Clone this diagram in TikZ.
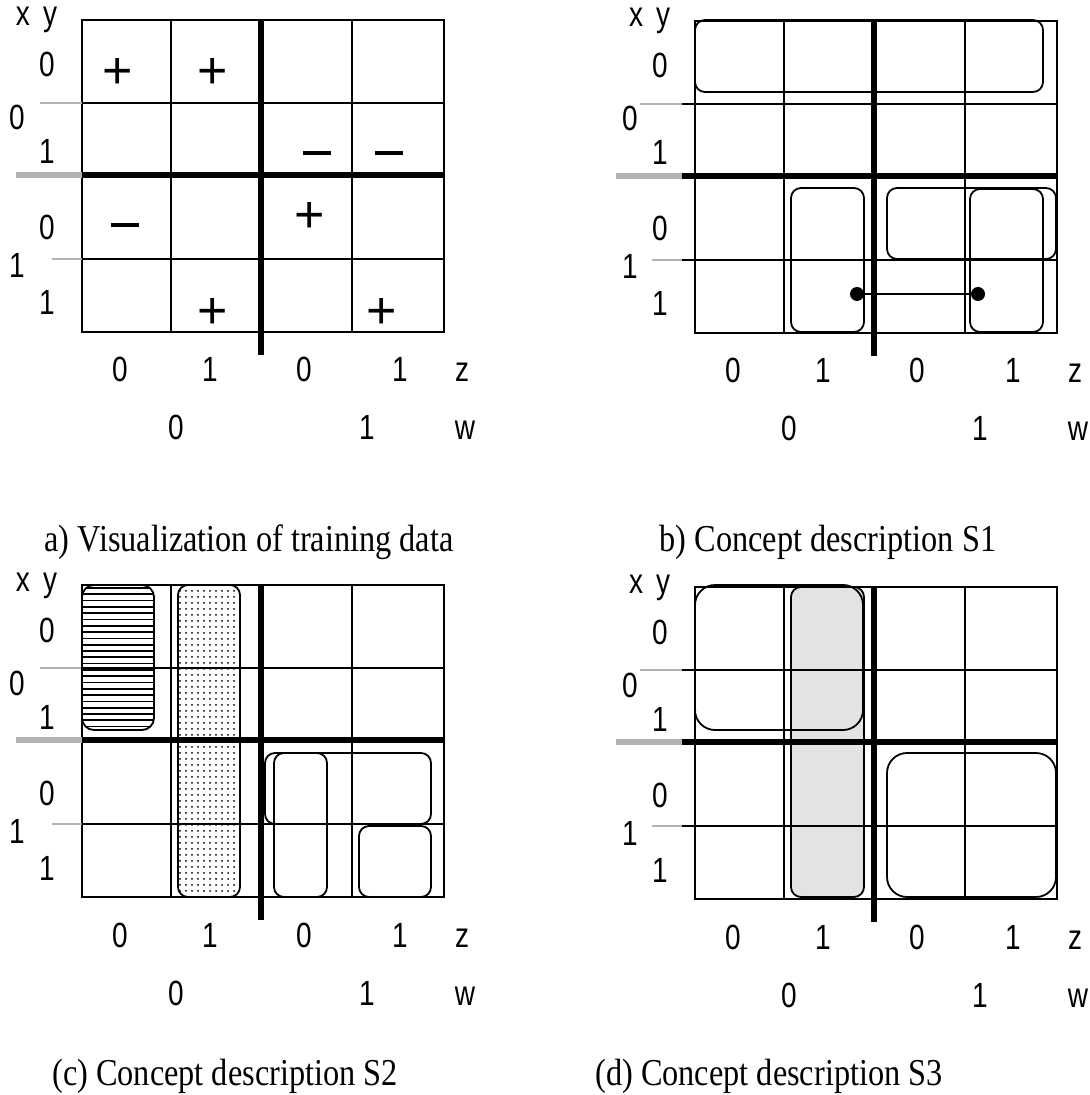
\documentclass[tikz,border=0pt]{standalone}
\usepackage{fontspec}
\usepackage{tikz}
\usetikzlibrary{patterns}
\newfontfamily\lblfont[FakeStretch=0.8]{Liberation Sans}
\newfontfamily\signfont{Liberation Sans}
\newfontfamily\capfont[FakeStretch=0.85]{Liberation Serif}

% grid of one map; #1 = left end of the row lines
\newcommand{\kmap}[1]{%
  \draw[thin line] (0,0) rectangle (362,312);
  \foreach \x in {89,270} \draw[thin line] (\x,0) -- (\x,312);
  \foreach \y in {83,239} \draw[thin line] (#1,\y) -- (362,\y);
  \draw[gray tick] (#1-42,83) -- (#1,83);
  \draw[gray tick] (#1-30,239) -- (#1,239);
  \draw[gray tick, line width=2.6pt] (#1-66,155) -- (#1,155);
  \draw[thick line] (#1,155) -- (362,155);
  \draw[thick line] (179,0) -- (179,335);
  \node[lbl] (xv) at (-59,6) {x};
  \node[lbl] (yv) at (-32,6) {y};
  \node[lbl] (y0t) at (-35,57) {0};
  \node[lbl] (x0) at (-65,110) {0};
  \node[lbl] (y1t) at (-35,144) {1};
  \node[lbl] (y0b) at (-35,220) {0};
  \node[lbl] (x1) at (-65,258) {1};
  \node[lbl] (y1b) at (-35,295) {1};
  \node[lbl] (z0l) at (38,362) {0};
  \node[lbl] (z1l) at (128,362) {1};
  \node[lbl] (z0r) at (222,362) {0};
  \node[lbl] (z1r) at (318,362) {1};
  \node[lbl] (zv) at (380,362) {z};
  \node[lbl] (w0) at (94,420) {0};
  \node[lbl] (w1) at (285,420) {1};
  \node[lbl] (wv) at (383,420) {w};
}

\begin{document}
\begin{tikzpicture}[x=0.5pt, y=-0.5pt,
  thin line/.style={line width=0.85pt},
  thick line/.style={line width=2.6pt},
  gray tick/.style={gray!60, line width=0.85pt},
  lbl/.style={anchor=base, inner sep=0pt, font=\lblfont\fontsize{17.5}{20}\selectfont},
  plus/.style={inner sep=0pt, font=\signfont\fontsize{26}{26}\selectfont},
  minus/.style={inner sep=0pt},
  region/.style={draw, line width=0.9pt, rounded corners=5pt},
  bigregion/.style={draw, line width=0.9pt, rounded corners=10pt},
  dot/.style={circle, fill, inner sep=0pt, minimum size=7pt},
  caption/.style={anchor=base, font=\capfont\fontsize{19}{21}\selectfont}]
  \useasboundingbox (0,0) rectangle (1089,1095);

  % a) training data
  \begin{scope}[shift={(82,20)}, name prefix=a-]
    \kmap{0}
    \node[plus] (p00) at (36,54) {+};
    \node[plus] (p01) at (131,54) {+};
    \node[plus] (p10) at (228,197) {+};
    \node[plus] (p11) at (131,293) {+};
    \node[plus] (p12) at (300,293) {+};
    \node[minus] (m00) at (235,133) {\rule{14pt}{2.2pt}};
    \node[minus] (m01) at (307,133) {\rule{14pt}{2.2pt}};
    \node[minus] (m10) at (43,205) {\rule{14pt}{2.2pt}};
  \end{scope}
  \node[caption] (capa) at (249,551) {a) Visualization of training data};

  % b) S1
  \begin{scope}[shift={(695,21)}, name prefix=b-]
    \kmap{-13}
    \draw[region] (0,-1) rectangle (348,71);
    \draw[region] (96,167) rectangle (169,311);
    \draw[region] (192,167) rectangle (361,238);
    \draw[region] (275,168) rectangle (348,311);
    \node[dot] (d1) at (162,273) {};
    \node[dot] (d2) at (283,273) {};
    \draw[thin line] (d1) -- (d2);
  \end{scope}
  \node[caption] (capb) at (828,551) {b) Concept description S1};

  % c) S2
  \begin{scope}[shift={(82,585)}, name prefix=c-]
    \begin{scope}
      \clip[rounded corners=6pt] (0,0) rectangle (72,145);
      \foreach \y in {3,9.3,...,145} \draw[thin line] (0,\y) -- (72,\y);
    \end{scope}
    \fill[pattern=dots, rounded corners=5pt] (96,0) rectangle (158,312);
    \kmap{0}
    \draw[region, rounded corners=6pt] (0,0) rectangle (72,145);
    \draw[region] (96,0) rectangle (158,312);
    \draw[region] (183,168) rectangle (349,239);
    \draw[region] (192,168) rectangle (245,312);
    \draw[region] (277,241) rectangle (349,312);
  \end{scope}
  \node[caption] (capc) at (225,1085) {(c) Concept description S2};

  % d) S3
  \begin{scope}[shift={(695,587)}, name prefix=d-]
    \fill[gray!22, rounded corners=5pt] (96,0) rectangle (169,310);
    \kmap{-13}
    \draw[region] (96,0) rectangle (169,310);
    \draw[bigregion] (0,-2) rectangle (168,143);
    \draw[bigregion] (192,166) rectangle (361,310);
  \end{scope}
  \node[caption] (capd) at (769,1085) {(d) Concept description S3};
\end{tikzpicture}
\end{document}
